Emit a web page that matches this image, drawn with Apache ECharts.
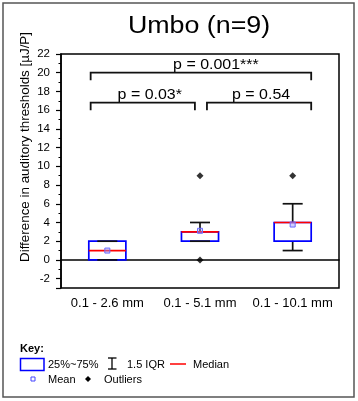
<!DOCTYPE html>
<html><head><meta charset="utf-8">
<script src="https://cdn.jsdelivr.net/npm/echarts@6/dist/echarts.min.js"></script>
<style>html,body{margin:0;padding:0;background:#fff}#c{width:358px;height:401px}</style>
</head><body><div id="c"></div>
<script>
// ---- data ----
const categories = ['0.1 - 2.6 mm', '0.1 - 5.1 mm', '0.1 - 10.1 mm'];
const whiskerLow = [0, 2, 1];
const q1 = [0, 2, 2];
const median = [1, 3, 4];
const q3 = [2, 3, 4];
const whiskerHigh = [2, 4, 6];
const mean = [1, 3.11, 3.78];
const outlierCategory = ['0.1 - 5.1 mm', '0.1 - 5.1 mm', '0.1 - 10.1 mm'];
const outlierValue = [9, 0, 9];
const bracketFrom = [0, 0, 1];
const bracketTo = [2, 1, 2];
const bracketLevel = [20, 16.8, 16.8];
const bracketLabels = ['p = 0.001***', 'p = 0.03*', 'p = 0.54'];
const titleText = 'Umbo (n=9)';
const yAxisTitle = 'Difference in auditory thresholds [µJ/P]';

// ---- style constants (not data) ----
const FONT = '"Liberation Sans", Arial, sans-serif';
const bracketStartOff = [-0.18, -0.18, 0.075];
const bracketEndOff = [0.2, -0.055, 0.2];
const bracketLabelDx = [15, 7, 2];

const boxData = categories.map((c, i) => [i, whiskerLow[i], q1[i], median[i], q3[i], whiskerHigh[i], mean[i]]);
const outlierData = outlierCategory.map((c, i) => [c, outlierValue[i]]);
const bracketData = bracketFrom.map((f, i) => [f, bracketTo[i], bracketLevel[i]]);

const chart = echarts.init(document.getElementById('c'), null, {renderer: 'canvas'});

function renderBox(params, api) {
  const idx = api.value(0);
  const band = api.size([1, 0])[0];
  const cx = api.coord([idx, 0])[0];
  const y = d => api.coord([idx, api.value(d)])[1];
  const bw = band * 0.4, cw = band * 0.216;
  const blk = {stroke: '#111', lineWidth: 1.7};
  const ch = [];
  ch.push({type: 'line', shape: {x1: cx, y1: y(1), x2: cx, y2: y(2)}, style: blk});
  ch.push({type: 'line', shape: {x1: cx, y1: y(4), x2: cx, y2: y(5)}, style: blk});
  ch.push({type: 'rect', shape: {x: cx - bw / 2, y: y(4), width: bw, height: y(2) - y(4)},
    style: {fill: '#fff', stroke: '#0000ff', lineWidth: 1.7}});
  ch.push({type: 'line', shape: {x1: cx - cw / 2, y1: y(1), x2: cx + cw / 2, y2: y(1)}, style: blk});
  ch.push({type: 'line', shape: {x1: cx - cw / 2, y1: y(5), x2: cx + cw / 2, y2: y(5)}, style: blk});
  ch.push({type: 'line', shape: {x1: cx - bw / 2, y1: y(3), x2: cx + bw / 2, y2: y(3)},
    style: {stroke: '#ff0000', lineWidth: 1.7}});
  const my = y(6);
  ch.push({type: 'rect', shape: {x: cx - 2.5, y: my - 2.5, width: 5, height: 5},
    style: {fill: 'rgba(150,150,255,0.45)', stroke: '#6a6aff', lineWidth: 1}});
  return {type: 'group', children: ch};
}

function renderBracket(params, api) {
  const i = params.dataIndex;
  const band = api.size([1, 0])[0];
  const x1 = api.coord([api.value(0), 0])[0] + bracketStartOff[i] * band;
  const x2 = api.coord([api.value(1), 0])[0] + bracketEndOff[i] * band;
  const yy = api.coord([0, api.value(2)])[1];
  return {type: 'group', children: [
    {type: 'polyline', shape: {points: [[x1, yy + 7.5], [x1, yy], [x2, yy], [x2, yy + 7.5]]},
      style: {stroke: '#111', lineWidth: 1.8, fill: 'none'}},
    {type: 'text', x: (x1 + x2) / 2 + bracketLabelDx[i], y: yy - 0.5, scaleX: 1.14,
      style: {text: bracketLabels[i], fontSize: 14, fontFamily: FONT, fill: '#000',
        align: 'center', verticalAlign: 'bottom'}}
  ]};
}

const txt = (t, x, y, extra) => Object.assign({type: 'text', x: x, y: y,
  style: Object.assign({text: t, fontSize: 11, fontFamily: FONT, fill: '#000', align: 'left', verticalAlign: 'middle'}, extra || {})});

chart.setOption({
  animation: false,
  backgroundColor: '#fff',
  grid: {left: 61, right: 19, top: 54, bottom: 113, show: true, borderColor: '#000', borderWidth: 1.5, backgroundColor: 'transparent'},
  xAxis: {
    type: 'category', data: categories,
    axisLine: {lineStyle: {color: '#000', width: 1.5}},
    axisTick: {alignWithLabel: true, length: 5, lineStyle: {color: '#000', width: 1.2}},
    axisLabel: {interval: 0, hideOverlap: false, fontSize: 13, color: '#000', margin: 9, fontFamily: FONT},
    splitLine: {show: false}
  },
  yAxis: {
    type: 'value', min: -3, max: 22, splitNumber: 12,
    axisLine: {show: true, lineStyle: {color: '#000', width: 1.5}},
    axisTick: {show: true, length: 5, lineStyle: {color: '#000', width: 1.2}},
    minorTick: {show: true, splitNumber: 2, length: 2.5, lineStyle: {color: '#000', width: 1}},
    splitLine: {show: false},
    axisLabel: {showMinLabel: false, fontSize: 11.5, color: '#000', margin: 11, fontFamily: FONT}
  },
  series: [
    {type: 'custom', renderItem: renderBox, data: boxData, encode: {x: 0, y: [1, 2, 3, 4, 5, 6]}, z: 3},
    {type: 'scatter', data: outlierData, symbol: 'diamond', symbolSize: 7, itemStyle: {color: '#000'}, z: 4},
    {type: 'custom', renderItem: renderBracket, data: bracketData, encode: {x: [0, 1], y: 2}, z: 5}
  ],
  graphic: [
    {type: 'rect', shape: {x: 3, y: 3, width: 351, height: 394}, style: {fill: 'none', stroke: '#555', lineWidth: 1.5}},
    {type: 'text', x: 199, y: 27, scaleX: 1.15,
      style: {text: titleText, fontSize: 23.3, fontFamily: FONT, fill: '#000', align: 'center', verticalAlign: 'middle'}},
    {type: 'text', x: 25, y: 147, rotation: Math.PI / 2,
      style: {text: yAxisTitle, fontSize: 13.4, fontFamily: FONT, fill: '#000', align: 'center', verticalAlign: 'middle'}},
    txt('Key:', 20, 349, {fontWeight: 'bold'}),
    {type: 'rect', shape: {x: 20.5, y: 358.5, width: 23.5, height: 12}, style: {fill: 'none', stroke: '#0000ff', lineWidth: 1.5}},
    txt('25%~75%', 48, 364.5),
    {type: 'line', shape: {x1: 112, y1: 358, x2: 112, y2: 369}, style: {stroke: '#000', lineWidth: 1.3}},
    {type: 'line', shape: {x1: 108, y1: 358, x2: 116.5, y2: 358}, style: {stroke: '#000', lineWidth: 1.3}},
    {type: 'line', shape: {x1: 108, y1: 369, x2: 116.5, y2: 369}, style: {stroke: '#000', lineWidth: 1.3}},
    txt('1.5 IQR', 127, 364.5),
    {type: 'line', shape: {x1: 170, y1: 364, x2: 186, y2: 364}, style: {stroke: '#ff0000', lineWidth: 1.5}},
    txt('Median', 193, 364.5),
    {type: 'rect', shape: {x: 31, y: 377, width: 4, height: 4}, style: {fill: 'none', stroke: '#4444ff', lineWidth: 1}},
    txt('Mean', 48, 379.5),
    {type: 'polygon', shape: {points: [[88, 376], [91, 379], [88, 382], [85, 379]]}, style: {fill: '#000'}},
    txt('Outliers', 104, 379.5)
  ]
});
</script>
</body></html>
